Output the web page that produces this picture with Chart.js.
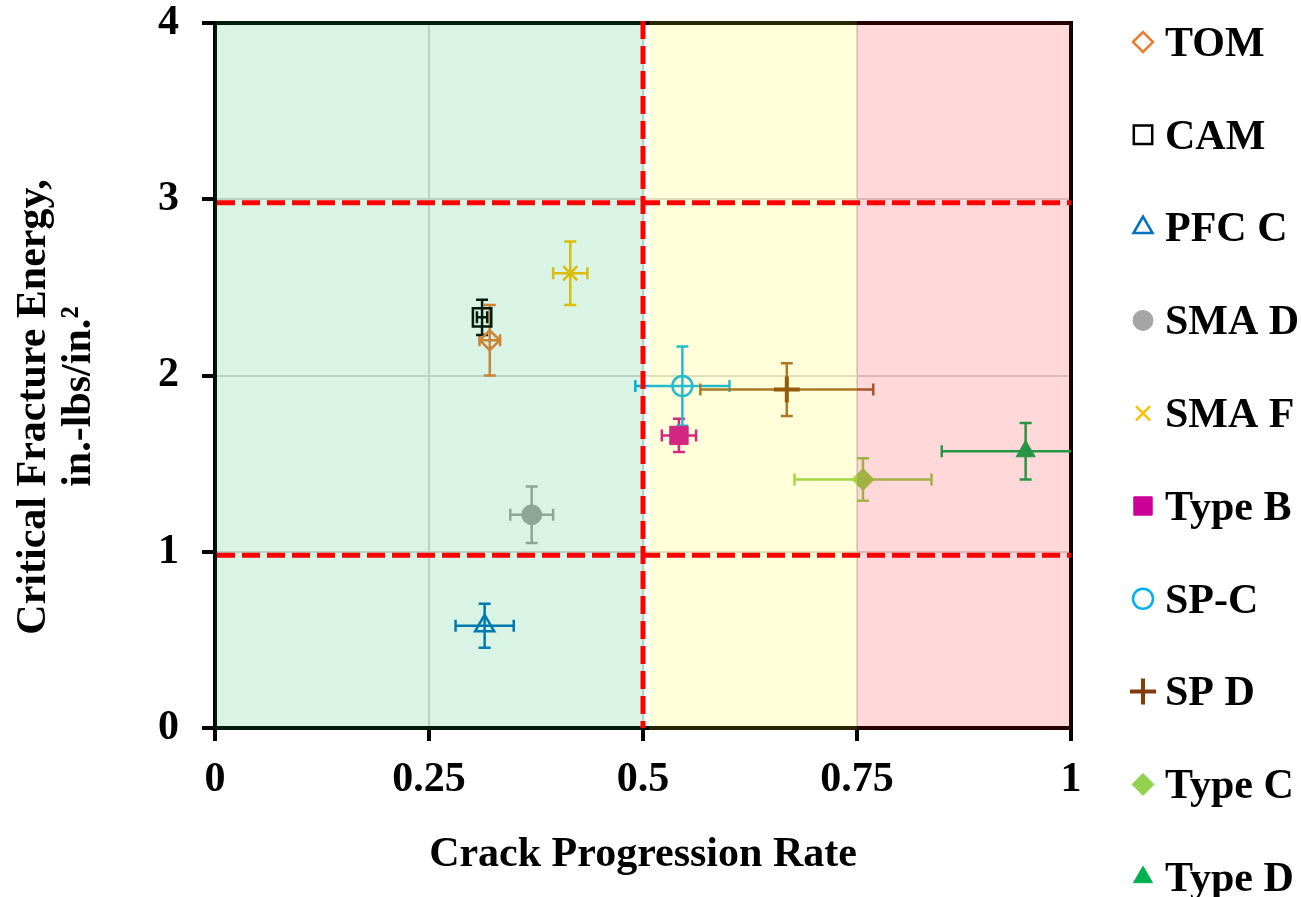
<!DOCTYPE html>
<html>
<head>
<meta charset="utf-8">
<script src="https://cdn.jsdelivr.net/npm/chart.js@4.4.1/dist/chart.umd.min.js"></script>
<style>
  html, body { margin: 0; padding: 0; background: #fff; }
  #wrap { width: 1301px; height: 897px; }
</style>
</head>
<body>
<div id="wrap"><canvas id="chart" width="1301" height="897"></canvas></div>
<script>
const mixNames = ['TOM', 'CAM', 'PFC C', 'SMA D', 'SMA F', 'Type B', 'SP-C', 'SP D', 'Type C', 'Type D'];
const crackRate = [0.321, 0.312, 0.315, 0.370, 0.415, 0.542, 0.546, 0.668, 0.757, 0.947];
const fractureEnergy = [2.20, 2.33, 0.58, 1.21, 2.58, 1.66, 1.94, 1.92, 1.41, 1.57];
const crackRateErr = [0.012, 0.006, 0.034, 0.025, 0.020, 0.020, 0.055, 0.101, 0.080, 0.098];
const fractureEnergyErr = [0.20, 0.10, 0.125, 0.16, 0.18, 0.094, 0.225, 0.15, 0.12, 0.16];

const xTicks = [0, 0.25, 0.5, 0.75, 1];
const xTickLabels = ['0', '0.25', '0.5', '0.75', '1'];
const yTicks = [0, 1, 2, 3, 4];
const yTickLabels = ['0', '1', '2', '3', '4'];

// shaded zones along x and the red limit lines
const zoneStart = [0, 0.507, 0.75];
const zoneEnd = [0.502, 0.75, 1];
const limitX = [0.5];
const limitY = [0.98, 2.98];

const zoneColors = ['rgba(0,176,80,0.15)', 'rgba(255,255,0,0.15)', 'rgba(255,0,0,0.15)'];
const colors = ['#ED7D31', '#000000', '#0070C0', '#A5A5A5', '#FFC000', '#CC0099', '#00B0F0', '#843C0C', '#92D050', '#00B050'];
const errColors = ['#ED7D31', '#000000', '#0070C0', '#A5A5A5', '#FFC000', '#CC0099', '#00B0F0', '#9C6230', '#92D050', '#00B050'];
const styles = ['rectRot', 'rect', 'triangle', 'circle', 'crossRot', 'rect', 'circle', 'cross', 'rectRot', 'triangle'];
const filled = [false, false, false, true, false, true, false, false, true, true];
const radii = [10, 13, 11, 10, 10, 13, 10, 13, 11, 11];
const widths = [2.5, 2.5, 2.5, 1, 2.5, 1, 2.5, 4, 1, 1];

const FONT = '"Liberation Serif", "Times New Roman", serif';

const datasets = mixNames.map((name, i) => ({
  label: name,
  data: [{ x: crackRate[i], y: fractureEnergy[i] }],
  pointStyle: styles[i],
  pointRadius: radii[i],
  pointHoverRadius: radii[i],
  pointBorderWidth: widths[i],
  borderColor: colors[i],
  backgroundColor: filled[i] ? colors[i] : 'rgba(0,0,0,0)',
  showLine: false
}));

const frame = {
  id: 'frame',
  beforeDatasetsDraw(chart) {
    const { ctx, chartArea: a } = chart;
    ctx.save();
    ctx.strokeStyle = '#000';
    ctx.lineWidth = 4;
    ctx.strokeRect(a.left, a.top, a.right - a.left, a.bottom - a.top);
    ctx.restore();
  }
};

const errorBars = {
  id: 'errorBars',
  beforeDatasetsDraw(chart) {
    const { ctx, chartArea: a, scales: { x, y } } = chart;
    const cap = 6;
    ctx.save();
    ctx.beginPath();
    ctx.rect(a.left, a.top, a.right - a.left, a.bottom - a.top);
    ctx.clip();
    ctx.lineWidth = 2.5;
    mixNames.forEach((n, i) => {
      const px = x.getPixelForValue(crackRate[i]);
      const py = y.getPixelForValue(fractureEnergy[i]);
      const x0 = x.getPixelForValue(crackRate[i] - crackRateErr[i]);
      const x1 = x.getPixelForValue(crackRate[i] + crackRateErr[i]);
      const y0 = y.getPixelForValue(fractureEnergy[i] - fractureEnergyErr[i]);
      const y1 = y.getPixelForValue(fractureEnergy[i] + fractureEnergyErr[i]);
      ctx.strokeStyle = errColors[i];
      ctx.beginPath();
      ctx.moveTo(x0, py); ctx.lineTo(x1, py);
      ctx.moveTo(x0, py - cap); ctx.lineTo(x0, py + cap);
      ctx.moveTo(x1, py - cap); ctx.lineTo(x1, py + cap);
      ctx.moveTo(px, y0); ctx.lineTo(px, y1);
      ctx.moveTo(px - cap, y0); ctx.lineTo(px + cap, y0);
      ctx.moveTo(px - cap, y1); ctx.lineTo(px + cap, y1);
      ctx.stroke();
    });
    ctx.restore();
  }
};

// zones are laid over the markers (like the original), then the dashed limits
const zonesAndLimits = {
  id: 'zonesAndLimits',
  afterDatasetsDraw(chart) {
    const { ctx, chartArea: a, scales: { x, y } } = chart;
    ctx.save();
    zoneStart.forEach((s, i) => {
      const l = x.getPixelForValue(s), r = x.getPixelForValue(zoneEnd[i]);
      ctx.fillStyle = zoneColors[i];
      ctx.fillRect(l, a.top - 2, r - l, a.bottom - a.top + 4);
    });
    ctx.strokeStyle = '#FF0000';
    ctx.lineWidth = 5;
    ctx.setLineDash([18, 7]);
    limitY.forEach(v => {
      const py = y.getPixelForValue(v);
      ctx.beginPath(); ctx.moveTo(a.left + 2, py); ctx.lineTo(a.right, py); ctx.stroke();
    });
    limitX.forEach(v => {
      const px = x.getPixelForValue(v);
      ctx.beginPath(); ctx.moveTo(px, a.top - 2); ctx.lineTo(px, a.bottom); ctx.stroke();
    });
    ctx.restore();
  }
};

const sideLegend = {
  id: 'sideLegend',
  afterDraw(chart) {
    const ctx = chart.ctx;
    ctx.save();
    ctx.font = 'bold 42px ' + FONT;
    ctx.textBaseline = 'middle';
    ctx.textAlign = 'left';
    mixNames.forEach((name, i) => {
      const ly = 42 + i * 92.8;
      ctx.fillStyle = filled[i] ? colors[i] : 'rgba(0,0,0,0)';
      ctx.strokeStyle = colors[i];
      ctx.lineWidth = widths[i];
      Chart.helpers.drawPoint(ctx, { pointStyle: styles[i], radius: radii[i], borderWidth: widths[i], rotation: 0 }, 1143, ly);
      ctx.fillStyle = '#000';
      ctx.fillText(name, 1165, ly + 3);
    });
    ctx.restore();
  }
};

const tickFont = { family: FONT, size: 42, weight: 'bold' };

new Chart(document.getElementById('chart').getContext('2d'), {
  type: 'scatter',
  data: { datasets },
  options: {
    responsive: false,
    animation: false,
    layout: { padding: { left: 0, top: 23, right: 230, bottom: 0 } },
    plugins: { legend: { display: false }, tooltip: { enabled: false } },
    scales: {
      x: {
        min: 0, max: 1,
        afterBuildTicks: s => { s.ticks = xTicks.map(v => ({ value: v })); },
        afterFit: s => { s.height = 169; s.paddingLeft = 0; s.paddingRight = 0; },
        ticks: { font: tickFont, color: '#000', padding: 14, maxRotation: 0,
                 callback: (v, i) => xTickLabels[i] },
        grid: { color: '#d9d9d9', lineWidth: 2, tickColor: '#000', tickLength: 13, tickWidth: 4 },
        border: { display: true, color: '#000', width: 4 },
        title: { display: true, text: 'Crack Progression Rate', color: '#000',
                 font: { family: FONT, size: 42, weight: 'bold', lineHeight: 1.1 },
                 padding: { top: 0, bottom: 19 } }
      },
      y: {
        min: 0, max: 4,
        afterBuildTicks: s => { s.ticks = yTicks.map(v => ({ value: v })); },
        afterFit: s => { s.width = 215; s.paddingTop = 0; s.paddingBottom = 0; },
        ticks: { font: tickFont, color: '#000', padding: 23,
                 callback: (v, i) => yTickLabels[i] },
        grid: { color: '#d9d9d9', lineWidth: 2, tickColor: '#000', tickLength: 13, tickWidth: 4 },
        border: { display: true, color: '#000', width: 4 },
        title: { display: true, text: ['Critical Fracture Energy,      ', 'in.-lbs/in.\u00B2    '], color: '#000',
                 font: { family: FONT, size: 42, weight: 'bold', lineHeight: 1.07 },
                 padding: { top: 12, bottom: 0 } }
      }
    }
  },
  plugins: [frame, errorBars, zonesAndLimits, sideLegend]
});
</script>
</body>
</html>
